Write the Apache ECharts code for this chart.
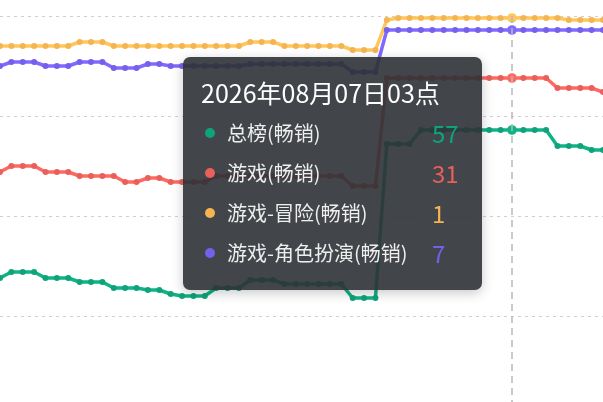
<!DOCTYPE html>
<html>
<head>
<meta charset="utf-8">
<script src="https://cdn.jsdelivr.net/npm/echarts/dist/echarts.min.js"></script>
<style>
html,body{margin:0;padding:0;background:#fff;}
#c{width:603px;height:402px;}
</style>
</head>
<body>
<div id="c"></div>
<script>
// hourly categories
const categories = [
  '2026年08月05日06点','2026年08月05日07点','2026年08月05日08点','2026年08月05日09点',
  '2026年08月05日10点','2026年08月05日11点','2026年08月05日12点','2026年08月05日13点','2026年08月05日14点',
  '2026年08月05日15点','2026年08月05日16点','2026年08月05日17点','2026年08月05日18点','2026年08月05日19点',
  '2026年08月05日20点','2026年08月05日21点','2026年08月05日22点','2026年08月05日23点',
  '2026年08月06日00点','2026年08月06日01点','2026年08月06日02点','2026年08月06日03点','2026年08月06日04点',
  '2026年08月06日05点','2026年08月06日06点','2026年08月06日07点','2026年08月06日08点','2026年08月06日09点',
  '2026年08月06日10点','2026年08月06日11点','2026年08月06日12点','2026年08月06日13点','2026年08月06日14点',
  '2026年08月06日15点','2026年08月06日16点','2026年08月06日17点','2026年08月06日18点','2026年08月06日19点',
  '2026年08月06日20点','2026年08月06日21点','2026年08月06日22点','2026年08月06日23点',
  '2026年08月07日00点','2026年08月07日01点','2026年08月07日02点','2026年08月07日03点','2026年08月07日04点',
  '2026年08月07日05点','2026年08月07日06点','2026年08月07日07点','2026年08月07日08点','2026年08月07日09点',
  '2026年08月07日10点','2026年08月07日11点'
];

const seriesNames = ['总榜(畅销)', '游戏(畅销)', '游戏-冒险(畅销)', '游戏-角色扮演(畅销)'];
const seriesColors = ['#0fa37a', '#e9605a', '#f5b452', '#7560ec'];

// ranks (lower = better)
const rankOverall = [131,128,128,128,131,131,131,133,133,133,136,136,136,137,137,139,140,140,140,
  136,136,136,132,132,132,134,134,134,134,134,134,141,141,141,64,64,64,57,57,
  57,57,57,57,57,57,57,57,57,57,65,65,65,67,67];
const rankGame = [78,75,75,75,78,78,78,80,80,80,80,83,83,81,81,83,83,83,83,
  80,80,80,80,80,80,80,80,80,80,80,80,85,85,85,31,31,31,31,31,
  31,31,31,31,31,31,31,31,31,31,36,36,36,36,38];
const rankAdventure = [15,15,15,15,15,15,15,13,13,13,15,15,15,15,15,15,15,15,15,
  15,15,15,13,13,13,15,15,15,15,15,15,17,17,17,2,1,1,1,1,
  1,1,1,1,1,1,1,1,1,1,1,2,2,2,2];
const rankRpg = [25,23,23,23,25,25,25,23,23,23,26,26,26,24,24,25,25,25,25,
  25,25,25,24,24,24,24,24,24,24,24,24,28,28,28,7,7,7,7,7,
  7,7,7,7,7,7,7,7,7,7,7,7,7,7,7];

const yTicks = { min: 0, max: 193, interval: 50 };
const focusIndex = 45; // 2026年08月07日03点

const dataSets = [rankOverall, rankGame, rankAdventure, rankRpg];

const chart = echarts.init(document.getElementById('c'), null, { renderer: 'canvas' });

const series = dataSets.map((d, i) => ({
  name: seriesNames[i],
  type: 'line',
  data: d,
  symbol: 'circle',
  symbolSize: 6,
  showSymbol: true,
  lineStyle: { width: 3.5, color: seriesColors[i] },
  itemStyle: { color: seriesColors[i] },
  emphasis: { scale: 1.6, lineStyle: { width: 3.5 } },
  z: 2
}));

chart.setOption({
  animation: false,
  color: seriesColors,
  grid: { left: 0, right: 0, top: 16, bottom: 0 },
  xAxis: {
    type: 'category',
    data: categories,
    boundaryGap: false,
    axisLine: { show: false },
    axisTick: { show: false },
    axisLabel: { show: false },
    splitLine: { show: false }
  },
  yAxis: {
    type: 'value',
    inverse: true,
    min: yTicks.min,
    max: yTicks.max,
    interval: yTicks.interval,
    axisLine: { show: false },
    axisTick: { show: false },
    axisLabel: { show: false },
    splitLine: { show: true, showMaxLine: false, lineStyle: { color: '#cfcfcf', width: 1.2, type: [3, 4] } }
  },
  tooltip: {
    trigger: 'axis',
    triggerOn: 'none',
    alwaysShowContent: true,
    transitionDuration: 0,
    position: [183, 57],
    backgroundColor: 'rgba(46,49,53,0.9)',
    borderWidth: 0,
    padding: 0,
    extraCssText: 'border-radius:7px;box-shadow:0 3px 12px rgba(0,0,0,0.22);',
    axisPointer: {
      type: 'line',
      animation: false,
      lineStyle: { color: '#b8b8b8', width: 1.5, type: [7, 5] }
    },
    formatter: function (params) {
      const rowsY = [76, 116, 156, 196];
      let h = '<div style="position:relative;width:299px;height:233px;font-family:\'Noto Sans CJK SC\',sans-serif;">';
      h += '<div style="position:absolute;left:18px;top:19px;height:32px;line-height:32px;font-size:25px;color:#fff;white-space:nowrap;">' + params[0].axisValue + '</div>';
      params.forEach(function (p, i) {
        const cy = rowsY[i];
        h += '<span style="position:absolute;left:22px;top:' + (cy - 5) + 'px;width:10px;height:10px;border-radius:50%;background:' + p.color + ';"></span>';
        h += '<div style="position:absolute;left:44px;top:' + (cy - 14) + 'px;height:28px;line-height:28px;font-size:20px;color:#eee;white-space:nowrap;">' + p.seriesName + '</div>';
        h += '<div style="position:absolute;left:249px;top:' + (cy - 15) + 'px;height:30px;line-height:30px;font-size:24px;color:' + p.color + ';white-space:nowrap;">' + p.value + '</div>';
      });
      h += '</div>';
      return h;
    }
  },
  series: series
});

chart.dispatchAction({ type: 'showTip', seriesIndex: 0, dataIndex: focusIndex });
</script>
</body>
</html>
